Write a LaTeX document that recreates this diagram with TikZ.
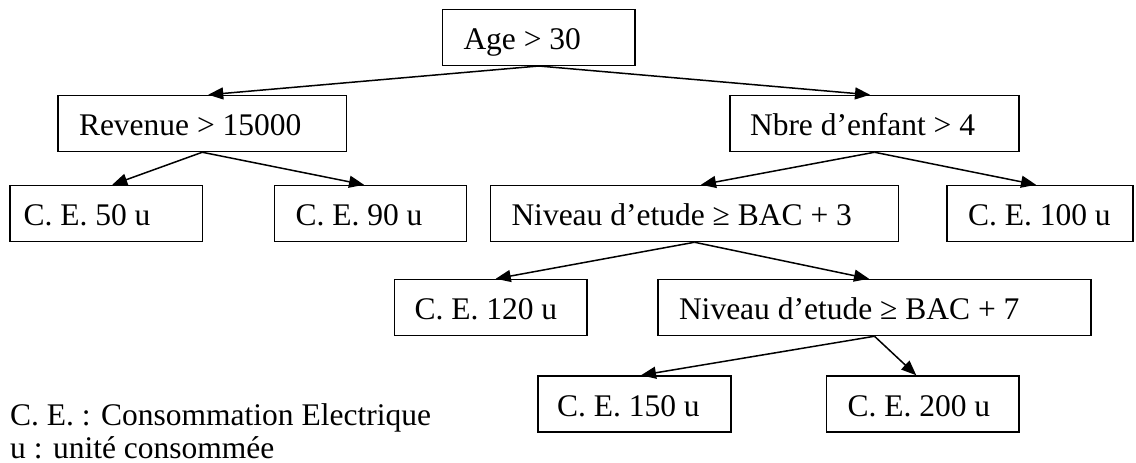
\documentclass[tikz,border=0pt]{standalone}
\usepackage{fontspec}
\setmainfont{Liberation Serif}
\usetikzlibrary{arrows.meta}

% left-aligned label of a given width inside a box
\newcommand\lefttext[2]{\makebox[#1][l]{#2}}

\begin{document}
\begin{tikzpicture}[
  x=1pt, y=-1pt,
  every node/.style={font=\fontsize{31.5pt}{33pt}\selectfont},
  box/.style={draw, line width=1.5pt, minimum height=56pt,
              inner ysep=0pt, text height=28pt, text depth=4pt},
  link/.style={line width=1.5pt, -{Triangle[length=15pt,width=12pt]}},
]
\useasboundingbox (0,0) rectangle (1136,463);

% decision nodes and leaves (centre; padding + text slot = half width)
\node[box, inner xsep=21pt] (age)  at (538.75,37.25) {\lefttext{150.5pt}{Age > 30}};
\node[box, inner xsep=21pt] (rev)  at (202.25,123.5) {\lefttext{246.5pt}{Revenue > 15000}};
\node[box, inner xsep=20pt] (nbre) at (874.5,123.5)  {\lefttext{249pt}{Nbre d’enfant > 4}};

\node[box, inner xsep=13.5pt] (c50)  at (106.25,213.5) {\lefttext{165.5pt}{C. E. 50 u}};
\node[box, inner xsep=21pt]   (c90)  at (370.5,213.5)  {\lefttext{150pt}{C. E. 90 u}};
\node[box, inner xsep=21pt]   (bac3) at (694.5,213.5)  {\lefttext{366pt}{Niveau d’etude ≥ BAC + 3}};
\node[box, inner xsep=21pt]   (c100) at (1040,213.5)   {\lefttext{144pt}{C. E. 100 u}};

\node[box, inner xsep=20pt] (c120) at (490.75,307.5) {\lefttext{152.5pt}{C. E. 120 u}};
\node[box, inner xsep=21pt] (bac7) at (874.5,307.5)  {\lefttext{391pt}{Niveau d’etude ≥ BAC + 7}};

\node[box, inner xsep=19pt] (c150) at (634.5,404)    {\lefttext{155pt}{C. E. 150 u}};
\node[box, inner xsep=21pt] (c200) at (922.75,404)   {\lefttext{150.5pt}{C. E. 200 u}};

% branches
\draw[link] (age.south)  -- ([xshift=6pt]rev.north);
\draw[link] (age.south)  -- ([xshift=-4.5pt]nbre.north);
\draw[link] (rev.south)  -- ([xshift=6pt]c50.north);
\draw[link] (rev.south)  -- ([xshift=-6.5pt]c90.north);
\draw[link] (nbre.south) -- ([xshift=6.5pt]bac3.north);
\draw[link] (nbre.south) -- ([xshift=-4pt]c100.north);
\draw[link] (bac3.south) -- ([xshift=5pt]c120.north);
\draw[link] (bac3.south) -- ([xshift=-5.5pt]bac7.north);
\draw[link] (bac7.south) -- ([xshift=6.5pt]c150.north);
\draw[link] (bac7.south) -- ([xshift=-6.5pt]c200.north);

% legend
\node[anchor=base west, inner sep=0pt] (leg1) at (10,425) {C. E. : Consommation Electrique};
\node[anchor=base west, inner sep=0pt] (leg2) at (10,458) {u : unité consommée};
\end{tikzpicture}
\end{document}
